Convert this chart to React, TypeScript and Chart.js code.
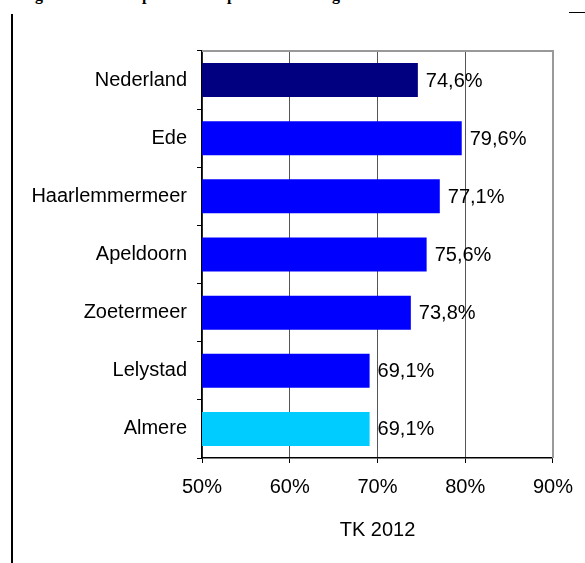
import React, { useEffect, useRef } from "react";
import { Chart, registerables } from "chart.js";

Chart.register(...registerables);

const categories = ["Nederland", "Ede", "Haarlemmermeer", "Apeldoorn", "Zoetermeer", "Lelystad", "Almere"];
const turnout = [74.6, 79.6, 77.1, 75.6, 73.8, 69.1, 69.1];
const barColors = ["#000080", "#0000FF", "#0000FF", "#0000FF", "#0000FF", "#0000FF", "#00CCFF"];
const xTicks = [50, 60, 70, 80, 90];
const axisTitle = "TK 2012";
const headingGlyphs = [
  { ch: "g", x: 35 },
  { ch: "p", x: 142 },
  { ch: "p", x: 227 },
  { ch: "g", x: 332 },
];

const FONT_FAMILY = '"Liberation Sans", Arial, sans-serif';
const FS = 20;

const fmt = (v: number) => v.toFixed(1).replace(".", ",") + "%";

const valueLabels = {
  id: "valueLabels",
  afterDatasetsDraw(chart: any) {
    const ctx = chart.ctx;
    const meta = chart.getDatasetMeta(0);
    ctx.save();
    ctx.font = `${FS}px ${FONT_FAMILY}`;
    ctx.fillStyle = "#000";
    ctx.textAlign = "left";
    ctx.textBaseline = "middle";
    meta.data.forEach((bar: any, i: number) => {
      ctx.fillText(fmt(turnout[i]), bar.x + 8, bar.y + 1);
    });
    ctx.restore();
  },
};

const plotFrame = {
  id: "plotFrame",
  beforeDatasetsDraw(chart: any) {
    const { ctx, chartArea } = chart;
    ctx.save();
    ctx.strokeStyle = "#999";
    ctx.lineWidth = 2;
    ctx.beginPath();
    ctx.moveTo(chartArea.left, chartArea.top);
    ctx.lineTo(chartArea.right, chartArea.top);
    ctx.lineTo(chartArea.right, chartArea.bottom);
    ctx.stroke();
    ctx.restore();
  },
};

export default function App() {
  const ref = useRef<HTMLCanvasElement | null>(null);

  useEffect(() => {
    if (!ref.current) return;
    const font = { family: FONT_FAMILY, size: FS };
    const chart = new Chart(ref.current, {
      type: "bar",
      data: {
        labels: categories,
        datasets: [
          {
            data: turnout,
            backgroundColor: barColors,
            borderWidth: 0,
            barPercentage: 0.585,
            categoryPercentage: 1,
          },
        ],
      },
      options: {
        indexAxis: "y",
        animation: false,
        responsive: false,
        devicePixelRatio: 1,
        layout: { padding: { top: 51, right: 31, left: 0, bottom: 0 } },
        plugins: {
          legend: { display: false },
          tooltip: { enabled: false },
          title: { display: false },
        },
        scales: {
          x: {
            type: "linear",
            min: 50,
            max: 90,
            afterBuildTicks: (s: any) => {
              s.ticks = xTicks.map((v) => ({ value: v }));
            },
            ticks: {
              callback: (v: any) => v + "%",
              font,
              color: "#000",
              padding: 12,
              maxRotation: 0,
            },
            grid: { color: "#555", tickColor: "#000", tickLength: 5, lineWidth: 1 },
            border: { color: "#000", width: 1.5 },
            title: {
              display: true,
              text: axisTitle,
              font,
              color: "#000",
              padding: { top: 0, bottom: 21 },
            },
            afterFit: (s: any) => {
              s.height = 105;
            },
          },
          y: {
            type: "category",
            grid: {
              display: true,
              drawOnChartArea: false,
              offset: true,
              tickLength: 5,
              tickColor: "#000",
            },
            border: { color: "#000", width: 1.5 },
            ticks: { font, color: "#000", padding: 10 },
            afterFit: (s: any) => {
              s.width = 202;
            },
          },
        },
      },
      plugins: [plotFrame, valueLabels],
    } as any);
    return () => chart.destroy();
  }, []);

  return (
    <div style={{ position: "fixed", left: 0, top: 0, width: 585, height: 563, background: "#fff", overflow: "hidden" }}>
      {headingGlyphs.map((g, i) => (
        <span
          key={i}
          style={{
            position: "absolute",
            left: g.x,
            top: -14,
            font: 'bold 16px "Liberation Serif", serif',
            lineHeight: "normal",
            color: "#000",
          }}
        >
          {g.ch}
        </span>
      ))}
      <div style={{ position: "absolute", left: 11, top: 14, width: 2, height: 549, background: "#000" }} />
      <div style={{ position: "absolute", left: 569, top: 12, width: 16, height: 1, background: "#000" }} />
      <canvas ref={ref} width={585} height={563} style={{ position: "absolute", left: 0, top: 0, display: "block" }} />
    </div>
  );
}
